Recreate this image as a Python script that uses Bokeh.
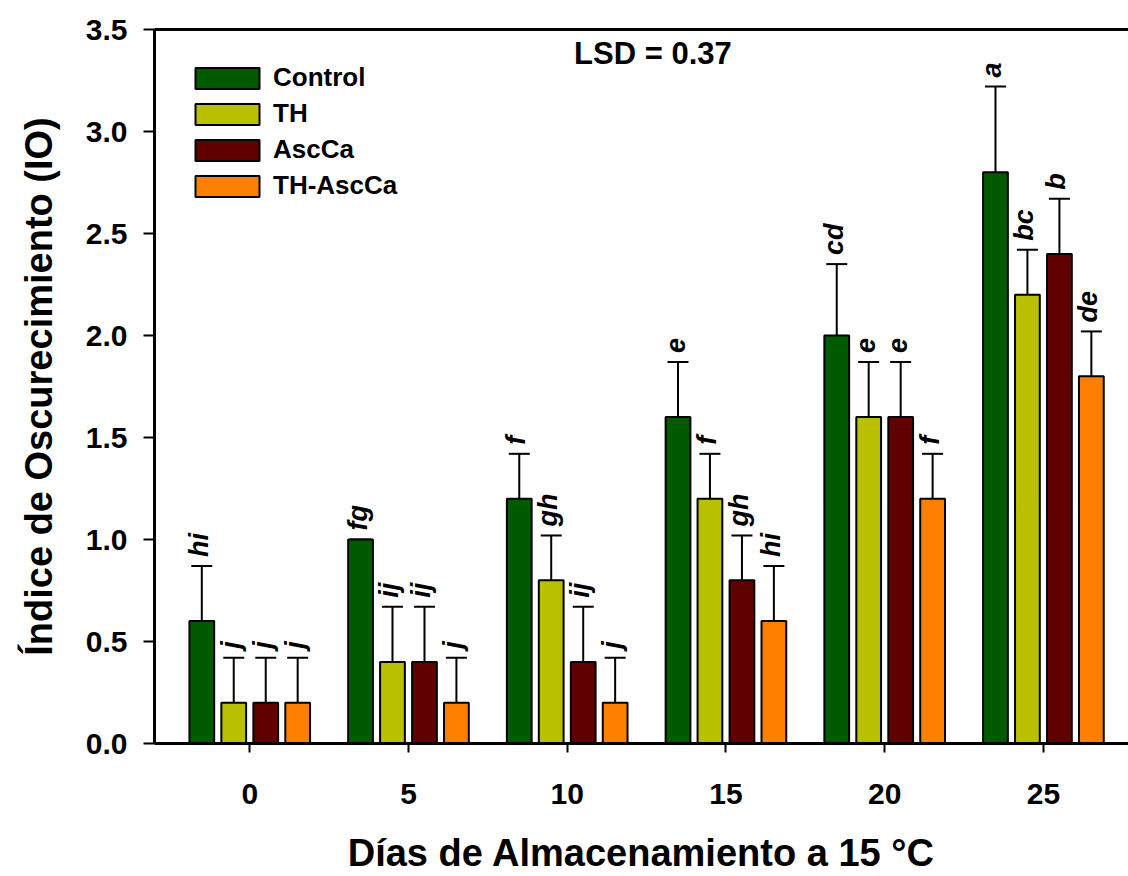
import math
from bokeh.plotting import figure
from bokeh.models import (ColumnDataSource, FixedTicker, NumeralTickFormatter, Whisker,
                          TeeHead, Label, LinearAxis, Range1d, Legend, LegendItem)
from bokeh.transform import dodge
from bokeh.core.properties import value
from bokeh.embed import file_html
from bokeh.resources import INLINE

days = [0, 5, 10, 15, 20, 25]
series = ["Control", "TH", "AscCa", "TH-AscCa"]
colors = ["#005A00", "#B9C000", "#600000", "#FF8000"]

control = [0.6, 1.0, 1.2, 1.6, 2.0, 2.8]
th = [0.2, 0.4, 0.8, 1.2, 1.6, 2.2]
ascca = [0.2, 0.4, 0.4, 0.8, 1.6, 2.4]
th_ascca = [0.2, 0.2, 0.2, 0.6, 1.2, 1.8]

err_control = [0.27, 0.0, 0.22, 0.27, 0.35, 0.42]
err_th = [0.22, 0.27, 0.22, 0.22, 0.27, 0.22]
err_ascca = [0.22, 0.27, 0.27, 0.22, 0.27, 0.27]
err_th_ascca = [0.22, 0.22, 0.22, 0.27, 0.22, 0.22]

let_control = ["hi", "fg", "f", "e", "cd", "a"]
let_th = ["j", "ij", "gh", "f", "e", "bc"]
let_ascca = ["j", "ij", "ij", "gh", "e", "b"]
let_th_ascca = ["j", "j", "j", "hi", "f", "de"]

vals = [control, th, ascca, th_ascca]
errs = [err_control, err_th, err_ascca, err_th_ascca]
lets = [let_control, let_th, let_ascca, let_th_ascca]
offsets = [-1.51, -0.504, 0.504, 1.51]

FONT = "Liberation Sans"

p = figure(width=1128, height=876, output_backend="svg", toolbar_location=None,
           x_range=Range1d(-3.0, 27.68), y_range=Range1d(0, 3.5),
           min_border_left=154, min_border_right=0, min_border_top=29, min_border_bottom=133)
p.outline_line_color = None
p.grid.visible = False
p.background_fill_color = "white"

items = []
for name, col, v, e, lt, off in zip(series, colors, vals, errs, lets, offsets):
    upper = [a + b for a, b in zip(v, e)]
    src = ColumnDataSource(dict(days=days, val=v, upper=upper, lab=lt))
    r = p.vbar(x=dodge("days", off, range=p.x_range), top="val", width=0.78, bottom=0,
               source=src, fill_color=col, line_color="black", line_width=2)
    items.append(LegendItem(label=name, renderers=[r]))
    w = Whisker(base=dodge("days", off, range=p.x_range), upper="upper", lower="val", source=src,
                line_width=2, line_color="black",
                upper_head=TeeHead(size=21, line_width=2, line_color="black"), lower_head=None)
    p.add_layout(w)
    p.text(x=dodge("days", off, range=p.x_range), y="upper", text="lab", source=src,
           angle=math.pi / 2, text_align="left", text_baseline="middle",
           x_offset=-3, y_offset=-9,
           text_font=value(FONT), text_font_style="bold italic", text_font_size="27px",
           text_color="black")

legend = Legend(items=items, location="top_left", margin=33, padding=0,
                border_line_color=None, background_fill_alpha=0,
                glyph_width=80, glyph_height=26, spacing=5, label_standoff=6,
                label_text_font=FONT, label_text_font_style="bold", label_text_font_size="26px",
                label_text_color="black")
p.add_layout(legend)

p.add_layout(Label(x=12.7, y=3.38, text="LSD = 0.37", text_align="center", text_baseline="middle",
                   text_font=FONT, text_font_style="bold", text_font_size="31px",
                   text_color="black"))

# x axis
xa = p.xaxis[0]
xa.ticker = FixedTicker(ticks=days)
xa.minor_tick_line_color = None
xa.major_tick_in = 0
xa.major_tick_out = 9
xa.major_tick_line_width = 2
xa.axis_line_width = 3
xa.major_label_standoff = 31
xa.major_label_text_font = FONT
xa.major_label_text_font_style = "bold"
xa.major_label_text_font_size = "30px"
xa.major_label_text_color = "black"
xa.axis_label = "Días de Almacenamiento a 15 °C"
xa.axis_label_text_font = FONT
xa.axis_label_text_font_style = "bold"
xa.axis_label_text_font_size = "38px"
xa.axis_label_text_color = "black"
xa.axis_label_standoff = 25

ya = p.yaxis[0]
ya.ticker = FixedTicker(ticks=[0, 0.5, 1.0, 1.5, 2.0, 2.5, 3.0, 3.5])
ya.formatter = NumeralTickFormatter(format="0.0")
ya.minor_tick_line_color = None
ya.major_tick_in = 0
ya.major_tick_out = 11
ya.major_tick_line_width = 2
ya.axis_line_width = 3
ya.major_label_standoff = 16
ya.major_label_text_font = FONT
ya.major_label_text_font_style = "bold"
ya.major_label_text_font_size = "30px"
ya.major_label_text_color = "black"
ya.axis_label = "Índice de Oscurecimiento (IO)"
ya.axis_label_text_font = FONT
ya.axis_label_text_font_style = "bold"
ya.axis_label_text_font_size = "38px"
ya.axis_label_text_color = "black"
ya.axis_label_standoff = 23

top = LinearAxis(major_tick_line_color=None, minor_tick_line_color=None,
                 major_label_text_font_size="0px", axis_line_width=3,
                 ticker=FixedTicker(ticks=[]))
p.add_layout(top, "above")

open("out.html", "w").write(file_html(p, INLINE))
